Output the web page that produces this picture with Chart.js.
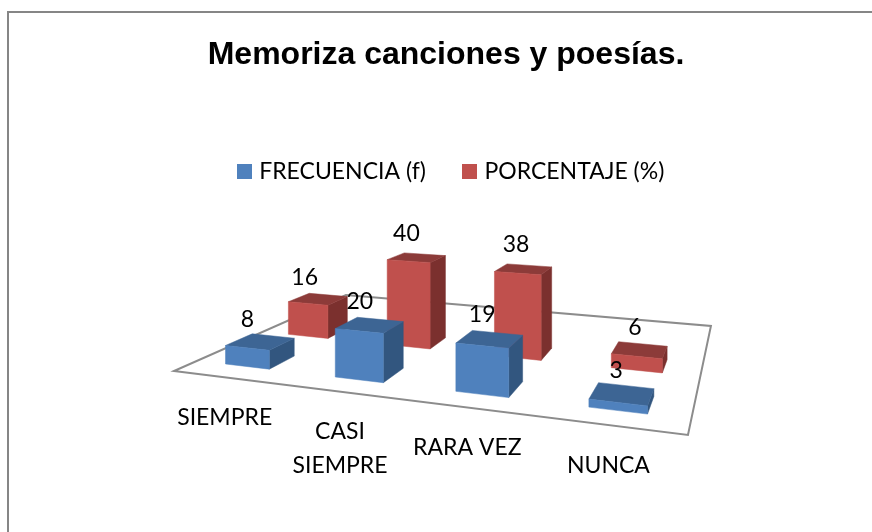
<!DOCTYPE html>
<html><head><meta charset="utf-8">
<style>html,body{margin:0;padding:0;background:#fff}canvas{display:block}</style>
<script src="https://cdn.jsdelivr.net/npm/chart.js@4"></script>
</head><body><canvas id="c" width="872" height="532"></canvas>
<script>
const categories = ["SIEMPRE", ["CASI", "SIEMPRE"], "RARA VEZ", "NUNCA"];
const seriesNames = ["FRECUENCIA (f)", "PORCENTAJE (%)"];
const frecuencia = [8, 20, 19, 3];
const porcentaje = [16, 40, 38, 6];
const chartTitle = "Memoriza canciones y poesías.";

// Perspective of the floor (view style, not data)
const H = {a:387.8,b:317.2,c:174,d:-15.8,e:47.8,f:371,g:-0.1834,h:0.4198};
const FLOOR = [[0,0],[1,0],[1,1],[0,1]];
const DEPTH = [[0.10,0.23],[0.43,0.56]];
const U_SHIFT = -0.006;
const LABEL_DX = [-28,-26];
const HEIGHT_K = 2.38;
const FACE = [{top:"#3D6594",side:"#32567F"},{top:"#8C3B39",side:"#7B302E"}];
const FONT = "Lato";

function proj(u, v, val){
  const w = H.g*u + H.h*v + 1;
  return {x:(H.a*u + H.b*v + H.c)/w, y:(H.d*u + H.e*v + H.f)/w - (val||0)*HEIGHT_K/w};
}
function poly(ctx, pts, fill){
  ctx.beginPath();
  pts.forEach((p,i)=> i ? ctx.lineTo(p.x,p.y) : ctx.moveTo(p.x,p.y));
  ctx.closePath(); ctx.fillStyle = fill; ctx.fill();
  ctx.strokeStyle = fill; ctx.lineWidth = 0.5; ctx.stroke();
}
// normalised bar geometry from the library's own scales
function barGeom(chart, el){
  const a = chart.chartArea, sx = a.right - a.left;
  const adj = u => u + U_SHIFT*(1-u);
  return {
    u0:adj((el.x - el.width/2 - a.left)/sx),
    u1:adj((el.x + el.width/2 - a.left)/sx),
    val:chart.scales.y.getValueForPixel(el.y)
  };
}
function swatch(color){
  const c = document.createElement("canvas");
  c.width = 15; c.height = 15;
  const x = c.getContext("2d"); x.fillStyle = color; x.fillRect(0,0,15,15);
  return c;
}

class Bar3DController extends Chart.BarController {
  static id = "bar3d";
  static defaults = Chart.BarController.defaults;
  draw(){
    const ctx = this.chart.ctx, idx = this.index, [v0,v1] = DEPTH[idx], f = FACE[idx];
    ctx.save();
    this._cachedMeta.data.forEach(el=>{
      const {u0,u1,val} = barGeom(this.chart, el);
      poly(ctx,[proj(u1,v0,0),proj(u1,v1,0),proj(u1,v1,val),proj(u1,v0,val)],f.side);
      poly(ctx,[proj(u0,v0,val),proj(u1,v0,val),proj(u1,v1,val),proj(u0,v1,val)],f.top);
      poly(ctx,[proj(u0,v0,0),proj(u1,v0,0),proj(u1,v0,val),proj(u0,v0,val)],el.options.backgroundColor);
    });
    ctx.restore();
  }
}
Chart.register(Bar3DController);

const scene = {
  id:"scene",
  afterLayout(chart){
    chart.legend.left += 7; chart.legend.right += 7;
  },
  beforeDraw(chart){
    const ctx = chart.ctx;
    ctx.save();
    ctx.strokeStyle = "#868686"; ctx.lineWidth = 2;
    ctx.beginPath(); ctx.moveTo(8,532); ctx.lineTo(8,12); ctx.lineTo(872,12); ctx.stroke();
    ctx.restore();
  },
  beforeDatasetsDraw(chart){
    const ctx = chart.ctx;
    ctx.save();
    ctx.strokeStyle = "#8C8C8C"; ctx.lineWidth = 2;
    ctx.beginPath();
    FLOOR.forEach(([u,v],i)=>{const p=proj(u,v,0); i?ctx.lineTo(p.x,p.y):ctx.moveTo(p.x,p.y);});
    ctx.closePath(); ctx.stroke();
    ctx.restore();
  },
  afterDatasetsDraw(chart){
    const ctx = chart.ctx;
    ctx.save();
    ctx.fillStyle = "#000"; ctx.font = "23px "+FONT;
    ctx.textAlign = "center"; ctx.textBaseline = "middle";
    chart.data.datasets.forEach((ds,di)=>{
      chart.getDatasetMeta(di).data.forEach((el,i)=>{
        const {u0,u1,val} = barGeom(chart, el);
        const p = proj((u0+u1)/2, DEPTH[di][1], val);
        const uPos = (u0+u1)/2*4;
        ctx.fillText(String(ds.data[i]), p.x + LABEL_DX[di] + 5.2*uPos, p.y - 15 - val*0.15);
      });
    });
    const a = chart.chartArea;
    chart.data.labels.forEach((lab,i)=>{
      const u = (chart.scales.x.getPixelForValue(i) - a.left)/(a.right-a.left);
      const p = proj(u,0,0);
      [].concat(lab).forEach((line,k)=> ctx.fillText(line, p.x-3, p.y+40+k*34));
    });
    ctx.restore();
  }
};

new Chart(document.getElementById("c"),{
  type:"bar3d",
  data:{labels:categories,datasets:[
    {label:seriesNames[0],data:frecuencia,backgroundColor:"#4F81BD",borderWidth:0},
    {label:seriesNames[1],data:porcentaje,backgroundColor:"#C0504D",borderWidth:0}
  ]},
  options:{
    responsive:false,animation:false,
    layout:{padding:{left:20,right:0,top:0,bottom:60}},
    datasets:{bar3d:{grouped:false,barPercentage:0.41,categoryPercentage:1}},
    scales:{
      x:{type:"category",offset:true,display:false},
      y:{type:"linear",min:0,max:40,display:false}
    },
    plugins:{
      title:{display:true,text:chartTitle,color:"#000",
        font:{family:"'Liberation Sans'",size:32,weight:"bold"},padding:{top:36,bottom:45}},
      legend:{display:true,position:"top",
        labels:{font:{family:FONT,size:23},color:"#000",usePointStyle:true,pointStyleWidth:6,boxHeight:15,padding:41,
          generateLabels(chart){
            return chart.data.datasets.map((ds,i)=>({
              text:ds.label,fontColor:"#000",fillStyle:ds.backgroundColor,strokeStyle:ds.backgroundColor,
              lineWidth:0,hidden:false,datasetIndex:i,pointStyle:swatch(ds.backgroundColor)}));
          }}},
      tooltip:{enabled:false}
    }
  },
  plugins:[scene]
});
</script></body></html>
